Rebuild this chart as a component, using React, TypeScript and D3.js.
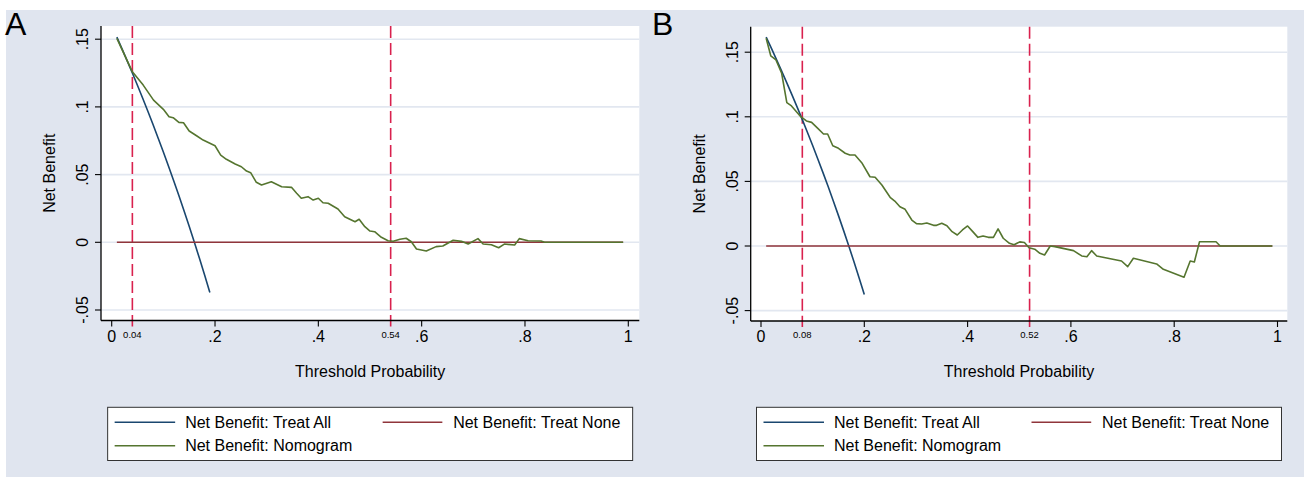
import React from 'react';
import * as d3 from 'd3';

// ---------------- DATA ----------------
const xTicks = [0, 0.2, 0.4, 0.6, 0.8, 1];
const xTickLabels = ['0', '.2', '.4', '.6', '.8', '1'];
const yTicks = [-0.05, 0, 0.05, 0.1, 0.15];
const yTickLabels = ['-.05', '0', '.05', '.1', '.15'];
const legendLabels = ['Net Benefit: Treat All', 'Net Benefit: Treat None', 'Net Benefit: Nomogram'];
const xTitle = 'Threshold Probability';
const yTitle = 'Net Benefit';

// Panel A
const treatAllA: [number, number][] = [
  [0.01, 0.1515], [0.02, 0.1429], [0.03, 0.134], [0.04, 0.125], [0.05, 0.1158],
  [0.06, 0.1064], [0.07, 0.0968], [0.08, 0.087], [0.09, 0.0769], [0.1, 0.0667],
  [0.11, 0.0562], [0.12, 0.0455], [0.13, 0.0345], [0.14, 0.0233], [0.15, 0.0118],
  [0.16, 0.0], [0.17, -0.012], [0.18, -0.0244], [0.19, -0.037],
];
const treatNoneA: [number, number][] = [[0.01, 0], [0.99, 0]];
const nomogramA: [number, number][] = [
  [0.01, 0.1506], [0.04, 0.1259], [0.061, 0.1161], [0.081, 0.105], [0.1, 0.0982],
  [0.111, 0.0927], [0.119, 0.092], [0.13, 0.0886], [0.139, 0.0883], [0.15, 0.0822],
  [0.165, 0.0785], [0.177, 0.0755], [0.19, 0.0731], [0.2, 0.0713], [0.211, 0.0644],
  [0.222, 0.0613], [0.239, 0.0578], [0.251, 0.0558], [0.261, 0.0526], [0.269, 0.0514],
  [0.28, 0.0443], [0.29, 0.0423], [0.309, 0.0447], [0.329, 0.041], [0.348, 0.0406],
  [0.358, 0.0362], [0.367, 0.0325], [0.38, 0.0337], [0.39, 0.0312], [0.4, 0.0325],
  [0.409, 0.0292], [0.419, 0.0288], [0.438, 0.0246], [0.451, 0.0189], [0.471, 0.0152],
  [0.479, 0.017], [0.49, 0.0115], [0.5, 0.0083], [0.509, 0.0078], [0.522, 0.0037],
  [0.535, 0.0012], [0.545, 0.0008], [0.558, 0.0022], [0.57, 0.003], [0.58, 0.0004],
  [0.59, -0.0049], [0.609, -0.0064], [0.628, -0.0032], [0.641, -0.0027], [0.661, 0.0015],
  [0.677, 0.0007], [0.69, -0.0013], [0.709, 0.0027], [0.719, -0.0013], [0.735, -0.0018],
  [0.749, -0.004], [0.76, -0.0013], [0.78, -0.002], [0.789, 0.0027], [0.806, 0.0012],
  [0.831, 0.001], [0.838, 0], [0.99, 0],
];
const cutoffsA = [0.04, 0.54];
const cutoffLabelsA = ['0.04', '0.54'];

// Panel B
const treatAllB: [number, number][] = [
  [0.01, 0.1616], [0.02, 0.1531], [0.03, 0.1443], [0.04, 0.1354], [0.05, 0.1263],
  [0.06, 0.117], [0.07, 0.1075], [0.08, 0.0978], [0.09, 0.0879], [0.1, 0.0778],
  [0.11, 0.0674], [0.12, 0.0568], [0.13, 0.046], [0.14, 0.0349], [0.15, 0.0235],
  [0.16, 0.0119], [0.17, 0.0], [0.18, -0.0122], [0.19, -0.0247], [0.2, -0.0375],
];
const treatNoneB: [number, number][] = [[0.01, 0], [0.99, 0]];
const nomogramB: [number, number][] = [
  [0.01, 0.1608], [0.019, 0.1471], [0.029, 0.144], [0.04, 0.1337], [0.05, 0.1109],
  [0.059, 0.1084], [0.077, 0.1001], [0.088, 0.0968], [0.098, 0.0957], [0.11, 0.0911],
  [0.121, 0.0867], [0.129, 0.0867], [0.139, 0.0776], [0.15, 0.0756], [0.163, 0.0718],
  [0.172, 0.0704], [0.182, 0.0704], [0.195, 0.0645], [0.211, 0.0536], [0.221, 0.0532],
  [0.234, 0.0472], [0.25, 0.0377], [0.259, 0.0348], [0.269, 0.0304], [0.279, 0.0284],
  [0.292, 0.0201], [0.301, 0.0173], [0.311, 0.017], [0.321, 0.0178], [0.334, 0.016],
  [0.34, 0.016], [0.35, 0.0176], [0.36, 0.0157], [0.37, 0.0111], [0.38, 0.0085],
  [0.39, 0.0124], [0.4, 0.0155], [0.41, 0.0111], [0.42, 0.0067], [0.43, 0.0077],
  [0.44, 0.0067], [0.45, 0.0067], [0.459, 0.0132], [0.469, 0.006], [0.481, 0.0021],
  [0.49, 0.001], [0.501, 0.0032], [0.51, 0.0027], [0.519, -0.0013], [0.53, -0.0025],
  [0.54, -0.0057], [0.549, -0.007], [0.56, 0], [0.569, -0.0005], [0.605, -0.0036],
  [0.621, -0.0077], [0.631, -0.0083], [0.64, -0.0036], [0.65, -0.0077], [0.698, -0.0116],
  [0.71, -0.016], [0.721, -0.0095], [0.766, -0.0139], [0.779, -0.018], [0.819, -0.0242],
  [0.831, -0.0116], [0.839, -0.0124], [0.849, 0.0033], [0.881, 0.0033], [0.889, 0],
  [0.99, 0],
];
const cutoffsB = [0.08, 0.52];
const cutoffLabelsB = ['0.08', '0.52'];

// ---------------- STYLE ----------------
const FONT = "'Liberation Sans', Arial, Helvetica, sans-serif";
const BG = '#e0e5ef';
const GRID = '#e2e7f0';
const BLUE = '#1a476f';
const RED = '#90353b';
const GREEN = '#55752f';
const DASH = '#d9214e';

type PanelProps = {
  letter: string;
  letterX: number;
  plotLeft: number;
  plotRight: number;
  plotTop: number;
  axisY: number;
  x0: number;
  x1: number;
  yLow: number;
  yHigh: number;
  treatAll: [number, number][];
  treatNone: [number, number][];
  nomogram: [number, number][];
  cutoffs: number[];
  cutoffLabels: string[];
};

function Panel(p: PanelProps) {
  const x = d3.scaleLinear().domain([0, 1]).range([p.x0, p.x1]);
  const y = d3.scaleLinear().domain([-0.05, 0.15]).range([p.yLow, p.yHigh]);
  const line = d3
    .line<[number, number]>()
    .x((d) => x(d[0]))
    .y((d) => y(d[1]));
  const midY = (p.plotTop + p.axisY) / 2;
  const midX = (p.plotLeft + p.plotRight) / 2;
  const legW = 525;
  const L = midX - legW / 2;
  const legTop = 407.3;
  const legBottom = 460.5;
  const row1 = 422.3;
  const row2 = 445.7;
  return (
    <g>
      <text x={p.letterX} y={35} fontSize={32} fontFamily={FONT} fill="#000">
        {p.letter}
      </text>
      <rect
        x={p.plotLeft}
        y={p.plotTop}
        width={p.plotRight - p.plotLeft}
        height={p.axisY - p.plotTop}
        fill="#fff"
      />
      {yTicks.map((t) => (
        <line
          key={'g' + t}
          x1={p.plotLeft}
          x2={p.plotRight}
          y1={y(t)}
          y2={y(t)}
          stroke={GRID}
          strokeWidth={1.6}
        />
      ))}
      {p.cutoffs.map((c) => (
        <line
          key={'c' + c}
          x1={x(c)}
          x2={x(c)}
          y1={p.plotTop}
          y2={p.axisY + 6}
          stroke={DASH}
          strokeWidth={1.6}
          strokeDasharray="12 5"
        />
      ))}
      <path d={line(p.treatAll) || ''} fill="none" stroke={BLUE} strokeWidth={1.6} />
      <path d={line(p.treatNone) || ''} fill="none" stroke={RED} strokeWidth={1.6} />
      <path d={line(p.nomogram) || ''} fill="none" stroke={GREEN} strokeWidth={1.6} strokeLinejoin="round" />
      {/* axes */}
      <line x1={p.plotLeft} x2={p.plotLeft} y1={p.plotTop} y2={p.axisY} stroke="#000" strokeWidth={1.3} />
      <line x1={p.plotLeft} x2={p.plotRight} y1={p.axisY} y2={p.axisY} stroke="#000" strokeWidth={1.3} />
      {yTicks.map((t, i) => (
        <g key={'yt' + t}>
          <line x1={p.plotLeft - 6} x2={p.plotLeft} y1={y(t)} y2={y(t)} stroke="#000" strokeWidth={1.1} />
          <text
            transform={`translate(${p.plotLeft - 13},${y(t)}) rotate(-90)`}
            textAnchor="middle"
            fontSize={16}
            fontFamily={FONT}
            fill="#000"
          >
            {yTickLabels[i]}
          </text>
        </g>
      ))}
      {xTicks.map((t, i) => (
        <g key={'xt' + t}>
          <line x1={x(t)} x2={x(t)} y1={p.axisY} y2={p.axisY + 6} stroke="#000" strokeWidth={1.1} />
          <text x={x(t)} y={341.7} textAnchor="middle" fontSize={16} fontFamily={FONT} fill="#000">
            {xTickLabels[i]}
          </text>
        </g>
      ))}
      {p.cutoffs.map((c, i) => (
        <text key={'cl' + c} x={x(c)} y={337.5} textAnchor="middle" fontSize={9.5} fontFamily={FONT} fill="#000">
          {p.cutoffLabels[i]}
        </text>
      ))}
      <text x={midX} y={376.7} textAnchor="middle" fontSize={16} fontFamily={FONT} fill="#000">
        {xTitle}
      </text>
      <text
        transform={`translate(${p.plotLeft - 46},${midY}) rotate(-90)`}
        textAnchor="middle"
        fontSize={16}
        fontFamily={FONT}
        fill="#000"
      >
        {yTitle}
      </text>
      {/* legend */}
      <rect x={L} y={legTop} width={legW} height={legBottom - legTop} fill="#fff" stroke="#333" strokeWidth={1} />
      <line x1={L + 7} x2={L + 67.5} y1={row1} y2={row1} stroke={BLUE} strokeWidth={1.6} />
      <text x={L + 77.5} y={row1 + 5.7} fontSize={16} fontFamily={FONT} fill="#000">
        {legendLabels[0]}
      </text>
      <line x1={L + 275} x2={L + 334.7} y1={row1} y2={row1} stroke={RED} strokeWidth={1.6} />
      <text x={L + 345.5} y={row1 + 5.7} fontSize={16} fontFamily={FONT} fill="#000">
        {legendLabels[1]}
      </text>
      <line x1={L + 7} x2={L + 67.5} y1={row2} y2={row2} stroke={GREEN} strokeWidth={1.6} />
      <text x={L + 77.5} y={row2 + 5.7} fontSize={16} fontFamily={FONT} fill="#000">
        {legendLabels[2]}
      </text>
    </g>
  );
}

export default function App() {
  return (
    <svg
      width={1304}
      height={477}
      style={{ position: 'absolute', left: 0, top: 0, display: 'block', background: '#fff' }}
    >
      <rect x={6} y={10} width={1298} height={467} fill={BG} />
      <Panel
        letter="A"
        letterX={5}
        plotLeft={101}
        plotRight={639.3}
        plotTop={26}
        axisY={320.5}
        x0={111.7}
        x1={628.3}
        yLow={310}
        yHigh={39.2}
        treatAll={treatAllA}
        treatNone={treatNoneA}
        nomogram={nomogramA}
        cutoffs={cutoffsA}
        cutoffLabels={cutoffLabelsA}
      />
      <Panel
        letter="B"
        letterX={652}
        plotLeft={750.7}
        plotRight={1287.3}
        plotTop={26.7}
        axisY={321}
        x0={761}
        x1={1277.5}
        yLow={310.6}
        yHigh={52.2}
        treatAll={treatAllB}
        treatNone={treatNoneB}
        nomogram={nomogramB}
        cutoffs={cutoffsB}
        cutoffLabels={cutoffLabelsB}
      />
    </svg>
  );
}
